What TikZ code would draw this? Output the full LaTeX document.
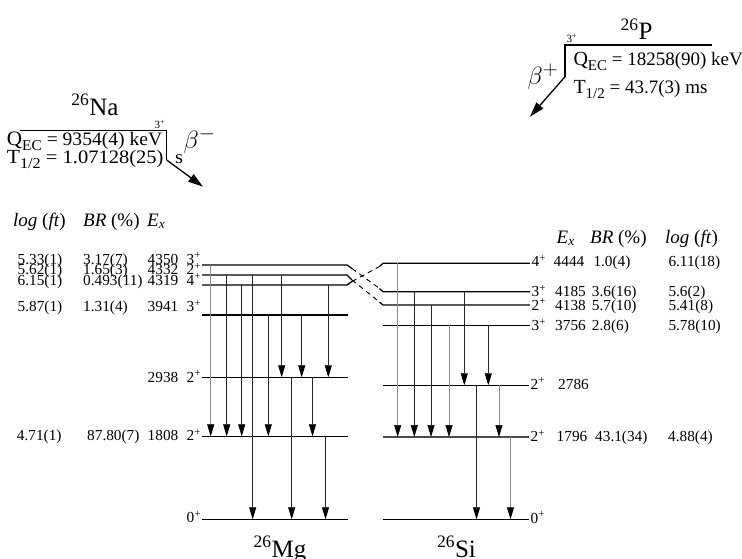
\documentclass[tikz,border=0pt]{standalone}
\usepackage{fontspec}
\setmainfont{Liberation Serif}
\usetikzlibrary{arrows.meta}
\newcommand{\lowsub}[1]{\raisebox{-5pt}{\fontsize{15}{15}\selectfont #1}}
\begin{document}
\begin{tikzpicture}[x=1pt,y=-1pt,
  lev/.style={line width=1.3pt,black},
  levg/.style={line width=1.3pt,black!70},
  xdash/.style={line width=0.9pt,black,dash pattern=on 5pt off 4pt},
  gam/.style={line width=0.7pt,black!85,-{Triangle[length=12pt,width=7pt,color=black]}},
  gamg/.style={gam,draw=black!45},
  dat/.style={inner sep=0pt,anchor=base west,font=\fontsize{15.3}{15}\selectfont},
  datr/.style={dat,anchor=base east},
  hdr/.style={inner sep=0pt,anchor=base west,font=\fontsize{19}{19}\selectfont},
  nuc/.style={inner sep=0pt,anchor=base,font=\fontsize{25}{25}\selectfont},
  qtx/.style={inner sep=0pt,anchor=base west,font=\fontsize{19}{19}\selectfont},
  spin/.style={inner sep=0pt,font=\fontsize{11}{11}\selectfont},
  betalab/.style={inner sep=0pt,font=\fontsize{29}{29}\selectfont},
  decay/.style={line width=1.3pt,black},
  decayarr/.style={line width=1.3pt,black,-{Triangle[length=15pt,width=9pt]}}]
\useasboundingbox (0,0) rectangle (742,558);

% ---------- 26Mg levels ----------
\coordinate (mgA) at (202,265);
\coordinate (mgB) at (202,275);
\coordinate (mgC) at (202,285);
\coordinate (mgD) at (202,315);
\coordinate (mgE) at (202,377.3);
\coordinate (mgF) at (202,436.3);
\coordinate (mgG) at (202,519.3);
% ---------- 26Si levels ----------
\coordinate (siA) at (383,263.3);
\coordinate (siB) at (383,291.7);
\coordinate (siC) at (383,305);
\coordinate (siD) at (383,325.3);
\coordinate (siE) at (383,385.3);
\coordinate (siF) at (383,437);
\coordinate (siG) at (383,519.3);

% bend points of the crossing levels
\coordinate (mgAb) at (347,265);  \coordinate (mgAe) at (352,268.5);
\coordinate (mgBb) at (347,275);  \coordinate (mgBe) at (352,280);
\coordinate (mgCb) at (347,285);  \coordinate (mgCe) at (352,281.5);
\coordinate (siAs) at (379.5,266.5);
\coordinate (siBs) at (379.5,288.5);
\coordinate (siCs) at (379.5,302);

\draw[lev] (mgA) -- (mgAb) -- (mgAe);
\draw[lev] (mgB) -- (mgBb) -- (mgBe);
\draw[lev] (mgC) -- (mgCb) -- (mgCe);
\draw[xdash] (mgAe) -- (siBs);
\draw[xdash] (mgBe) -- (siCs);
\draw[xdash] (mgCe) -- (siAs);
\draw[lev] (siAs) -- (siA) -- ++(147,0);
\draw[lev] (siBs) -- (siB) -- ++(147,0);
\draw[lev] (siCs) -- (siC) -- ++(147,0);
\foreach \l in {mgD,mgE,mgF,mgG} {\draw[lev] (\l) -- ++(146,0);}
\draw[lev] (siD) -- ++(147,0);
\draw[lev] (siE) -- ++(146,0);
\draw[levg] (siF) -- ++(146,0);
\draw[lev] (siG) -- ++(146,0);

% ---------- gamma transitions 26Mg ----------
\draw[gamg] (210.7,0 |- mgA) -- (210.7,0 |- mgF);
\draw[gam]  (226.7,0 |- mgB) -- (226.7,0 |- mgF);
\draw[gam]  (241.7,0 |- mgC) -- (241.7,0 |- mgF);
\draw[gam]  (252.7,0 |- mgB) -- (252.7,0 |- mgG);
\draw[gam]  (268.3,0 |- mgD) -- (268.3,0 |- mgF);
\draw[gam]  (281.7,0 |- mgB) -- (281.7,0 |- mgE);
\draw[gam]  (291.7,0 |- mgE) -- (291.7,0 |- mgG);
\draw[gam]  (301.7,0 |- mgD) -- (301.7,0 |- mgE);
\draw[gam]  (312.5,0 |- mgE) -- (312.5,0 |- mgF);
\draw[gam]  (328.3,0 |- mgC) -- (328.3,0 |- mgE);
\draw[gam]  (325.5,0 |- mgF) -- (325.5,0 |- mgG);

% ---------- gamma transitions 26Si ----------
\draw[gamg] (397.7,0 |- siA) -- (397.7,0 |- siF);
\draw[gam]  (414.3,0 |- siB) -- (414.3,0 |- siF);
\draw[gam]  (431,0 |- siC) -- (431,0 |- siF);
\draw[gamg] (449,0 |- siD) -- (449,0 |- siF);
\draw[gam]  (464.3,0 |- siB) -- (464.3,0 |- siE);
\draw[gam]  (488.3,0 |- siD) -- (488.3,0 |- siE);
\draw[gam]  (476.5,0 |- siE) -- (476.5,0 |- siG);
\draw[gamg] (499,0 |- siE) -- (499,0 |- siF);
\draw[gamg] (510.5,0 |- siF) -- (510.5,0 |- siG);

% ---------- left table ----------
\node[hdr] (hL1) at (13,226) {\textit{log} (\textit{ft})};
\node[hdr] (hL2) at (83,226) {\textit{BR} (\%)};
\node[hdr] (hL3) at (147,226) {\textit{E}\textsubscript{\textit{x}}};

\node[dat] (lf1) at (17.5,264) {5.33(1)};
\node[dat] (lb1) at (83,264) {3.17(7)};
\node[dat] (le1) at (147.5,264) {4350};
\node[datr] (ls1) at (201,264) {3\textsuperscript{+}};

\node[dat] (lf2) at (17.5,274.5) {5.62(1)};
\node[dat] (lb2) at (83,274.5) {1.65(3)};
\node[dat] (le2) at (147.5,274.5) {4332};
\node[datr] (ls2) at (201,274.5) {2\textsuperscript{+}};

\node[dat] (lf3) at (17.5,285) {6.15(1)};
\node[dat] (lb3) at (83,285) {0.493(11)};
\node[dat] (le3) at (147.5,285) {4319};
\node[datr] (ls3) at (201,285) {4\textsuperscript{+}};

\node[dat] (lf4) at (17.5,311.7) {5.87(1)};
\node[dat] (lb4) at (83,311.7) {1.31(4)};
\node[dat] (le4) at (147.5,311.7) {3941};
\node[datr] (ls4) at (201,311.7) {3\textsuperscript{+}};

\node[dat] (le5) at (147.5,382) {2938};
\node[datr] (ls5) at (201,382) {2\textsuperscript{+}};

\node[dat] (lf6) at (16.7,440.5) {4.71(1)};
\node[dat] (lb6) at (87,440.5) {87.80(7)};
\node[dat] (le6) at (147.5,440.5) {1808};
\node[datr] (ls6) at (201,440.5) {2\textsuperscript{+}};

\node[datr] (ls7) at (201,522.7) {0\textsuperscript{+}};

% ---------- right table ----------
\node[hdr] (hR1) at (556.5,243) {\textit{E}\textsubscript{\textit{x}}};
\node[hdr] (hR2) at (590,243) {\textit{BR} (\%)};
\node[hdr] (hR3) at (665,243) {\textit{log} (\textit{ft})};

\node[dat] (rs1) at (531.5,266.7) {4\textsuperscript{+}};
\node[dat] (re1) at (553.5,266.7) {4444};
\node[dat] (rb1) at (593.3,266.7) {1.0(4)};
\node[dat] (rf1) at (668.3,266.7) {6.11(18)};

\node[dat] (rs2) at (531.5,296.5) {3\textsuperscript{+}};
\node[dat] (re2) at (555,296.5) {4185};
\node[dat] (rb2) at (591.7,296.5) {3.6(16)};
\node[dat] (rf2) at (668.3,296.5) {5.6(2)};

\node[dat] (rs3) at (531.5,310) {2\textsuperscript{+}};
\node[dat] (re3) at (555,310) {4138};
\node[dat] (rb3) at (591.7,310) {5.7(10)};
\node[dat] (rf3) at (668.3,310) {5.41(8)};

\node[dat] (rs4) at (531.5,330.5) {3\textsuperscript{+}};
\node[dat] (re4) at (555,330.5) {3756};
\node[dat] (rb4) at (591.7,330.5) {2.8(6)};
\node[dat] (rf4) at (668.3,330.5) {5.78(10)};

\node[dat] (rs5) at (530.5,389) {2\textsuperscript{+}};
\node[dat] (re5) at (558,389) {2786};

\node[dat] (rs6) at (530.5,441.5) {2\textsuperscript{+}};
\node[dat] (re6) at (556.5,441.5) {1796};
\node[dat] (rb6) at (595,441.5) {43.1(34)};
\node[dat] (rf6) at (668,441.5) {4.88(4)};

\node[dat] (rs7) at (530.5,523) {0\textsuperscript{+}};

% ---------- nuclide names ----------
\node[nuc] (mg) at (280,557) {\textsuperscript{26}Mg};
\node[nuc] (si) at (456.5,557) {\textsuperscript{26}Si};

% ---------- 26Na parent ----------
\node[nuc] (na) at (95,115) {\textsuperscript{26}Na};
\coordinate (naL) at (20,130.7);
\coordinate (naC) at (166.7,130.7);
\coordinate (naV) at (166.7,160);
\coordinate (naT) at (203,186.7);
\draw[decay] (naL) -- (naC) -- (naV);
\draw[decayarr] (naV) -- (naT);
\node[spin,anchor=base west] (naS) at (154.5,128.5) {3\textsuperscript{+}};
\node[qtx] (naQ) at (6.7,145) {\scalebox{1.03}[1]{{\fontsize{20.5}{20}\selectfont Q}\lowsub{EC} = 9354(4) keV}};
\node[qtx] (naT12) at (6.7,163.5) {\scalebox{1.08}[1]{{\fontsize{20}{20}\selectfont T}\lowsub{1/2} = 1.07128(25)\hspace{6pt} s}};
\node[betalab] (naB) at (199.5,140.5) {$\beta^{-}$};

% ---------- 26P parent ----------
\node[nuc] (p) at (636.5,39.5) {\textsuperscript{26}P};
\coordinate (pR) at (711.7,45);
\coordinate (pC) at (565,45);
\coordinate (pV) at (565,76.7);
\coordinate (pT) at (530,116.7);
\draw[decay] (pR) -- (pC) -- (pV);
\draw[decayarr] (pV) -- (pT);
\node[spin,anchor=base west] (pS) at (566.5,42) {3\textsuperscript{+}};
\node[qtx] (pQ) at (573.3,65) {{\fontsize{20}{20}\selectfont Q}\lowsub{EC} = 18258(90) keV};
\node[qtx] (pT12) at (573.3,93) {{\fontsize{20}{20}\selectfont T}\lowsub{1/2} = 43.7(3) ms};
\node[betalab] (pB) at (543,77) {$\beta^{+}$};
\end{tikzpicture}
\end{document}
